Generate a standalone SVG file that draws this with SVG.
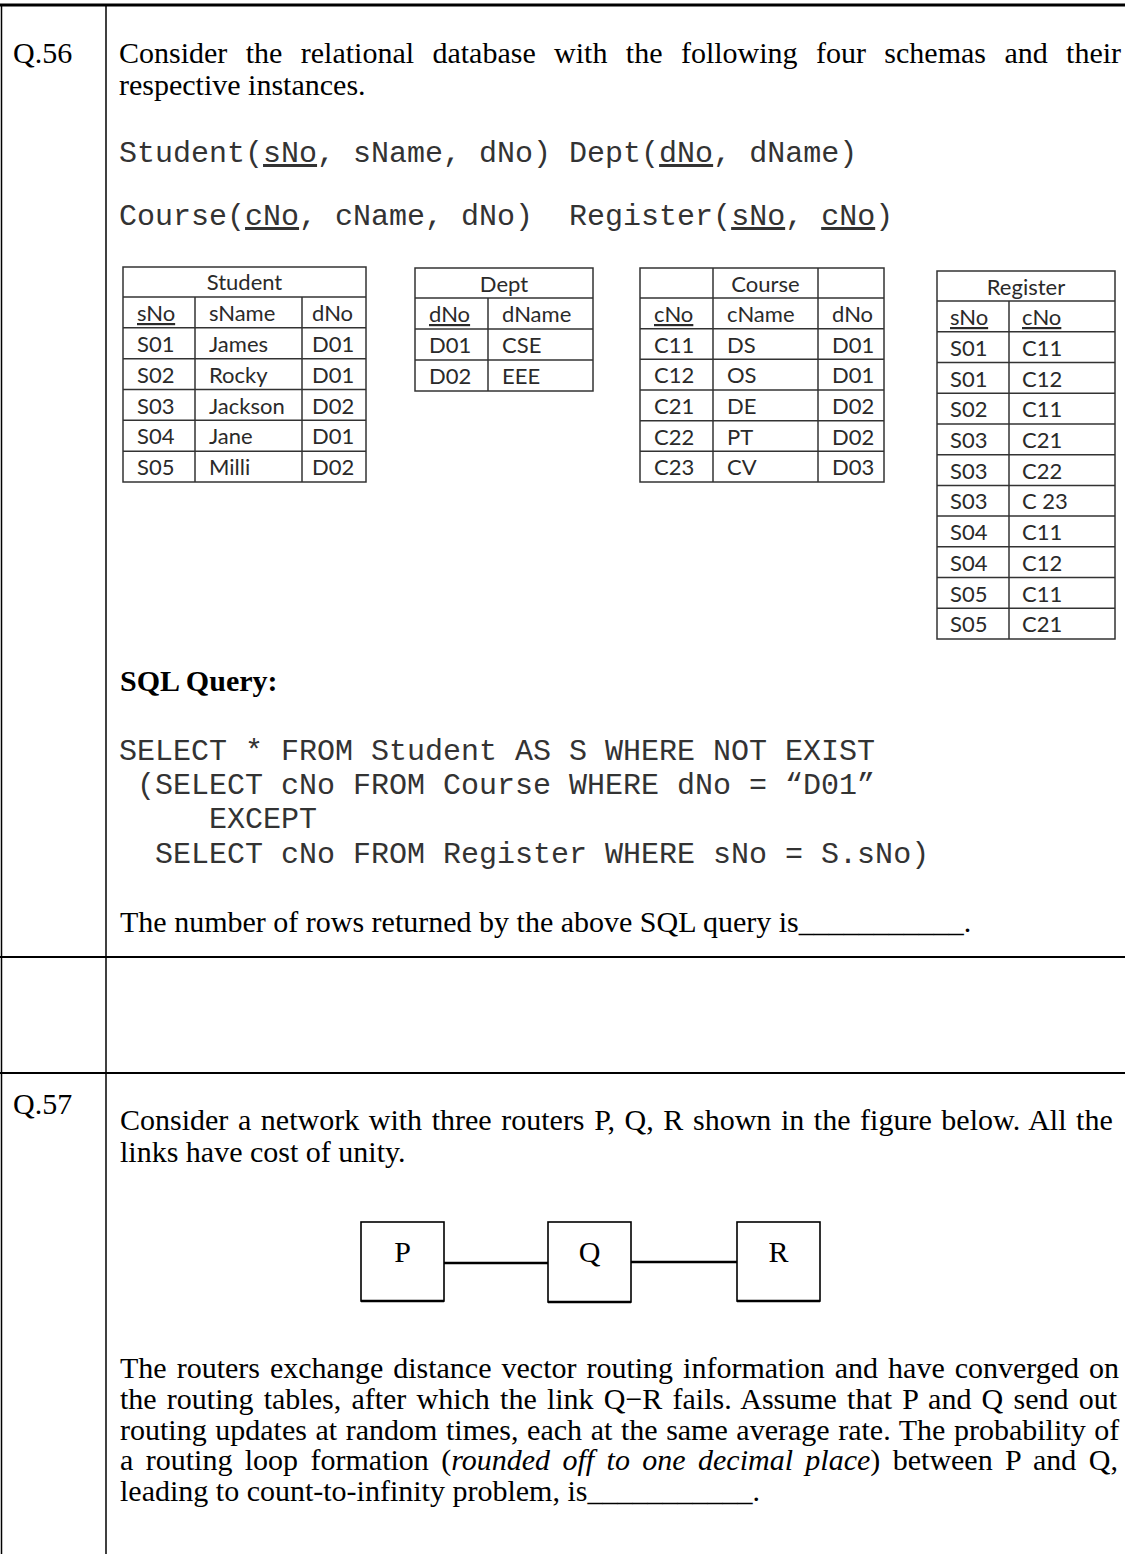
<svg xmlns="http://www.w3.org/2000/svg" width="1125" height="1554" viewBox="0 0 1125 1554">
<style>
.t{font-family:"Liberation Serif","Times New Roman",serif;font-size:30px;fill:#000}
.b{font-weight:bold}
.i{font-style:italic}
.m{font-family:"Liberation Mono","Courier New",monospace;font-size:30px;fill:#333}
.c{font-family:Lato,"Open Sans",sans-serif;font-size:22px;fill:#2a2a2a}
.cm{text-anchor:middle}
.u{text-decoration:underline}
.frame{stroke:#000;fill:none}
.tb{stroke:#333;stroke-width:1.5;fill:#fff}
.tl{stroke:#333;stroke-width:1.5}
.box{stroke:#000;stroke-width:1.6;fill:#fff}
.shade{stroke:#000;stroke-width:2.6}
.link{stroke:#000;stroke-width:2.5}
</style>
<rect width="1125" height="1554" fill="#fff"/>
<g id="frame">
<line class="frame" x1="0" y1="5" x2="1125" y2="5" stroke-width="3"/>
<line class="frame" x1="1.5" y1="5" x2="1.5" y2="1554" stroke-width="1.5"/>
<line class="frame" x1="106" y1="5" x2="106" y2="1554" stroke-width="1.5"/>
<line class="frame" x1="0" y1="957" x2="1125" y2="957" stroke-width="2"/>
<line class="frame" x1="0" y1="1073" x2="1125" y2="1073" stroke-width="2"/>
</g>
<g id="q56-text">
<text class="t" x="13" y="63">Q.56</text>
<text class="t" x="119" y="63" word-spacing="10.9">Consider the relational database with the following four schemas and their</text>
<text class="t" x="119" y="94.5">respective instances.</text>
<text class="m" x="119" y="162" xml:space="preserve">Student(<tspan class="u">sNo</tspan>, sName, dNo) Dept(<tspan class="u">dNo</tspan>, dName)</text>
<text class="m" x="119" y="225" xml:space="preserve">Course(<tspan class="u">cNo</tspan>, cName, dNo)  Register(<tspan class="u">sNo</tspan>, <tspan class="u">cNo</tspan>)</text>
</g>
<g id="student-table">
<rect class="tb" x="123" y="267" width="243" height="215"/>
<line class="tl" x1="123" y1="297" x2="366" y2="297"/>
<line class="tl" x1="123" y1="327.8" x2="366" y2="327.8"/>
<line class="tl" x1="123" y1="358.7" x2="366" y2="358.7"/>
<line class="tl" x1="123" y1="389.5" x2="366" y2="389.5"/>
<line class="tl" x1="123" y1="420.3" x2="366" y2="420.3"/>
<line class="tl" x1="123" y1="451.2" x2="366" y2="451.2"/>
<line class="tl" x1="195" y1="297" x2="195" y2="482"/>
<line class="tl" x1="302" y1="297" x2="302" y2="482"/>
<text class="c cm" x="244.5" y="290">Student</text>
<text class="c" y="321"><tspan x="137" class="u">sNo</tspan><tspan x="209">sName</tspan><tspan x="312">dNo</tspan></text>
<text class="c" y="352"><tspan x="137">S01</tspan><tspan x="209">James</tspan><tspan x="312">D01</tspan></text>
<text class="c" y="383"><tspan x="137">S02</tspan><tspan x="209">Rocky</tspan><tspan x="312">D01</tspan></text>
<text class="c" y="413.5"><tspan x="137">S03</tspan><tspan x="209">Jackson</tspan><tspan x="312">D02</tspan></text>
<text class="c" y="444.3"><tspan x="137">S04</tspan><tspan x="209">Jane</tspan><tspan x="312">D01</tspan></text>
<text class="c" y="475.2"><tspan x="137">S05</tspan><tspan x="209">Milli</tspan><tspan x="312">D02</tspan></text>
</g>
<g id="dept-table">
<rect class="tb" x="415" y="268" width="178" height="123"/>
<line class="tl" x1="415" y1="298" x2="593" y2="298"/>
<line class="tl" x1="415" y1="329" x2="593" y2="329"/>
<line class="tl" x1="415" y1="360" x2="593" y2="360"/>
<line class="tl" x1="488" y1="298" x2="488" y2="391"/>
<text class="c cm" x="504" y="292">Dept</text>
<text class="c" y="322"><tspan x="429" class="u">dNo</tspan><tspan x="502">dName</tspan></text>
<text class="c" y="353"><tspan x="429">D01</tspan><tspan x="502">CSE</tspan></text>
<text class="c" y="384"><tspan x="429">D02</tspan><tspan x="502">EEE</tspan></text>
</g>
<g id="course-table">
<rect class="tb" x="640" y="268" width="244" height="214"/>
<line class="tl" x1="640" y1="298" x2="884" y2="298"/>
<line class="tl" x1="640" y1="328.7" x2="884" y2="328.7"/>
<line class="tl" x1="640" y1="359.3" x2="884" y2="359.3"/>
<line class="tl" x1="640" y1="390" x2="884" y2="390"/>
<line class="tl" x1="640" y1="420.7" x2="884" y2="420.7"/>
<line class="tl" x1="640" y1="451.3" x2="884" y2="451.3"/>
<line class="tl" x1="713" y1="268" x2="713" y2="482"/>
<line class="tl" x1="818" y1="268" x2="818" y2="482"/>
<text class="c cm" x="765.5" y="292">Course</text>
<text class="c" y="322"><tspan x="654" class="u">cNo</tspan><tspan x="727">cName</tspan><tspan x="832">dNo</tspan></text>
<text class="c" y="352.7"><tspan x="654">C11</tspan><tspan x="727">DS</tspan><tspan x="832">D01</tspan></text>
<text class="c" y="383.3"><tspan x="654">C12</tspan><tspan x="727">OS</tspan><tspan x="832">D01</tspan></text>
<text class="c" y="414"><tspan x="654">C21</tspan><tspan x="727">DE</tspan><tspan x="832">D02</tspan></text>
<text class="c" y="444.7"><tspan x="654">C22</tspan><tspan x="727">PT</tspan><tspan x="832">D02</tspan></text>
<text class="c" y="475.3"><tspan x="654">C23</tspan><tspan x="727">CV</tspan><tspan x="832">D03</tspan></text>
</g>
<g id="register-table">
<rect class="tb" x="937" y="271" width="178" height="368"/>
<line class="tl" x1="937" y1="301" x2="1115" y2="301"/>
<line class="tl" x1="937" y1="331.7" x2="1115" y2="331.7"/>
<line class="tl" x1="937" y1="362.5" x2="1115" y2="362.5"/>
<line class="tl" x1="937" y1="393.2" x2="1115" y2="393.2"/>
<line class="tl" x1="937" y1="423.9" x2="1115" y2="423.9"/>
<line class="tl" x1="937" y1="454.7" x2="1115" y2="454.7"/>
<line class="tl" x1="937" y1="485.4" x2="1115" y2="485.4"/>
<line class="tl" x1="937" y1="516.1" x2="1115" y2="516.1"/>
<line class="tl" x1="937" y1="546.8" x2="1115" y2="546.8"/>
<line class="tl" x1="937" y1="577.6" x2="1115" y2="577.6"/>
<line class="tl" x1="937" y1="608.3" x2="1115" y2="608.3"/>
<line class="tl" x1="1009" y1="301" x2="1009" y2="639"/>
<text class="c cm" x="1026" y="295">Register</text>
<text class="c" y="325"><tspan x="950" class="u">sNo</tspan><tspan x="1022" class="u">cNo</tspan></text>
<text class="c" y="355.7"><tspan x="950">S01</tspan><tspan x="1022">C11</tspan></text>
<text class="c" y="386.5"><tspan x="950">S01</tspan><tspan x="1022">C12</tspan></text>
<text class="c" y="417.2"><tspan x="950">S02</tspan><tspan x="1022">C11</tspan></text>
<text class="c" y="447.9"><tspan x="950">S03</tspan><tspan x="1022">C21</tspan></text>
<text class="c" y="478.7"><tspan x="950">S03</tspan><tspan x="1022">C22</tspan></text>
<text class="c" y="509.4" xml:space="preserve"><tspan x="950">S03</tspan><tspan x="1022">C 23</tspan></text>
<text class="c" y="540.1"><tspan x="950">S04</tspan><tspan x="1022">C11</tspan></text>
<text class="c" y="570.8"><tspan x="950">S04</tspan><tspan x="1022">C12</tspan></text>
<text class="c" y="601.6"><tspan x="950">S05</tspan><tspan x="1022">C11</tspan></text>
<text class="c" y="632.3"><tspan x="950">S05</tspan><tspan x="1022">C21</tspan></text>
</g>
<g id="sql">
<text class="t b" x="120" y="691">SQL Query:</text>
<text class="m" x="119" y="760" xml:space="preserve">SELECT * FROM Student AS S WHERE NOT EXIST</text>
<text class="m" x="119" y="794" xml:space="preserve"> (SELECT cNo FROM Course WHERE dNo = “D01”</text>
<text class="m" x="119" y="828" xml:space="preserve">     EXCEPT</text>
<text class="m" x="119" y="863" xml:space="preserve">  SELECT cNo FROM Register WHERE sNo = S.sNo)</text>
<text class="t" x="120" y="932">The number of rows returned by the above SQL query is___________.</text>
</g>
<g id="q57-text">
<text class="t" x="13" y="1114">Q.57</text>
<text class="t" x="120" y="1130" word-spacing="2.1">Consider a network with three routers P, Q, R shown in the figure below. All the</text>
<text class="t" x="120" y="1162">links have cost of unity.</text>
</g>
<g id="connectors">
<line class="link" x1="444" y1="1263" x2="548" y2="1263"/>
<line class="link" x1="631" y1="1262" x2="737" y2="1262"/>
</g>
<g id="router-P">
<rect class="box" x="361" y="1222" width="83" height="79"/>
<line class="shade" x1="361" y1="1301" x2="444" y2="1301"/>
<text class="t cm" x="402.5" y="1262">P</text>
</g>
<g id="router-Q">
<rect class="box" x="548" y="1222" width="83" height="80"/>
<line class="shade" x1="548" y1="1302" x2="631" y2="1302"/>
<text class="t cm" x="589.5" y="1262">Q</text>
</g>
<g id="router-R">
<rect class="box" x="737" y="1222" width="83" height="79"/>
<line class="shade" x1="737" y1="1301" x2="820" y2="1301"/>
<text class="t cm" x="778.5" y="1262">R</text>
</g>
<g id="q57-body">
<text class="t" x="120" y="1378" word-spacing="2.5">The routers exchange distance vector routing information and have converged on</text>
<text class="t" x="120" y="1409" word-spacing="2.7">the routing tables, after which the link Q−R fails. Assume that P and Q send out</text>
<text class="t" x="120" y="1439.5" word-spacing="1.1">routing updates at random times, each at the same average rate. The probability of</text>
<text class="t" x="120" y="1470" word-spacing="4.9">a routing loop formation (<tspan class="i">rounded off to one decimal place</tspan>) between P and Q,</text>
<text class="t" x="120" y="1500.5">leading to count-to-infinity problem, is___________.</text>
</g>
</svg>
